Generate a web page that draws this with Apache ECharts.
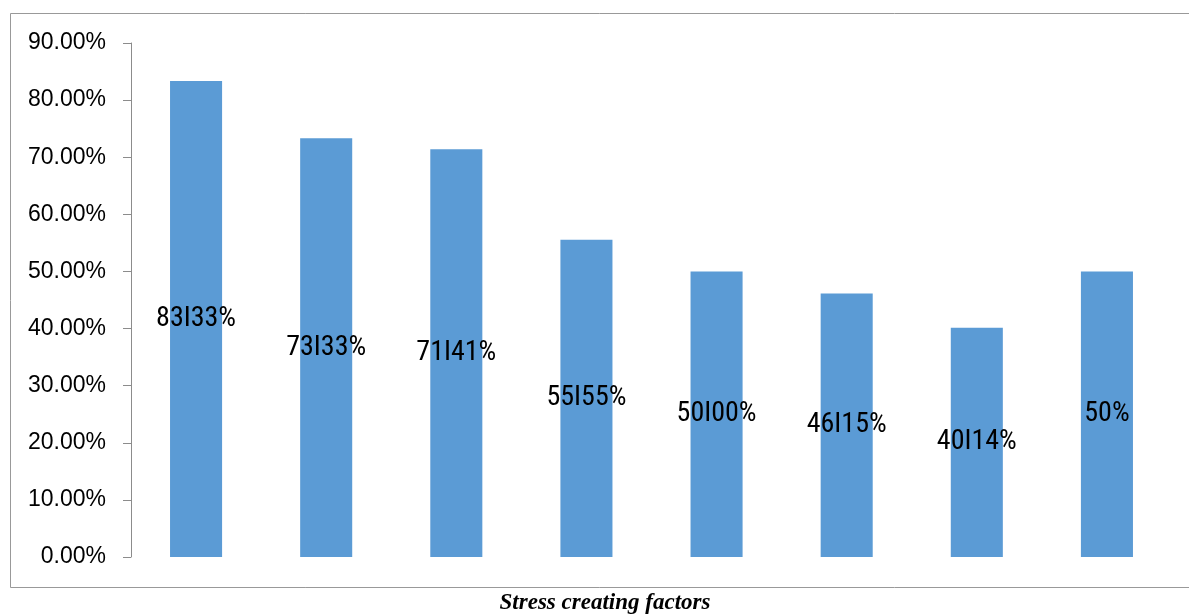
<!DOCTYPE html>
<html>
<head>
<meta charset="utf-8">
<script src="https://cdn.jsdelivr.net/npm/echarts@6/dist/echarts.min.js"></script>
<style>
html,body{margin:0;padding:0;background:#fff;overflow:hidden;}
#chart{width:1189px;height:614px;}
</style>
</head>
<body>
<div id="chart"></div>
<script>
var categories = ["F1", "F2", "F3", "F4", "F5", "F6", "F7", "F8"];
var values = [83.33, 73.33, 71.41, 55.55, 50.00, 46.15, 40.14, 50.00];
var barLabels = ["83I33%", "73I33%", "71I41%", "55I55%", "50I00%", "46I15%", "40I14%", "50%"];
var yTicks = [0, 10, 20, 30, 40, 50, 60, 70, 80, 90];

var chart = echarts.init(document.getElementById('chart'));
var frame = {stroke: '#999', lineWidth: 1};
chart.setOption({
  animation: false,
  backgroundColor: '#fff',
  grid: {left: 131, right: 17, top: 43, bottom: 57, containLabel: false},
  xAxis: {
    type: 'category',
    data: categories,
    axisLine: {show: false},
    axisTick: {show: false},
    axisLabel: {show: false},
    splitLine: {show: false}
  },
  yAxis: {
    type: 'value',
    min: yTicks[0],
    max: yTicks[yTicks.length - 1],
    interval: 10,
    axisLine: {show: true, lineStyle: {color: '#8c8c8c', width: 1}},
    axisTick: {show: true, length: 8, lineStyle: {color: '#8c8c8c'}},
    splitLine: {show: false},
    axisLabel: {
      margin: 25,
      color: '#000',
      fontFamily: '"Liberation Sans", Arial, sans-serif',
      fontSize: 23,
      formatter: function (v) { return v.toFixed(2) + '%'; }
    }
  },
  series: [{
    type: 'bar',
    data: values,
    barWidth: '40%',
    itemStyle: {color: '#5B9BD5'},
    label: {
      show: true,
      position: 'inside',
      color: '#000',
      fontStyle: 'condensed',
      fontFamily: 'Roboto, sans-serif',
      fontSize: 28,
      formatter: function (p) { return barLabels[p.dataIndex]; }
    }
  }],
  graphic: [
    {type: 'line', shape: {x1: 10.5, y1: 13.5, x2: 1189, y2: 13.5}, style: frame, silent: true},
    {type: 'line', shape: {x1: 10.5, y1: 13.5, x2: 10.5, y2: 587.5}, style: frame, silent: true},
    {type: 'line', shape: {x1: 10.5, y1: 587.5, x2: 1189, y2: 587.5}, style: frame, silent: true},
    {
      type: 'text',
      x: 605, y: 603,
      style: {
        text: 'Stress creating factors',
        font: 'italic bold 23px "Liberation Serif", "Times New Roman", serif',
        fill: '#000',
        textAlign: 'center',
        textVerticalAlign: 'middle'
      }
    }
  ]
});
</script>
</body>
</html>
